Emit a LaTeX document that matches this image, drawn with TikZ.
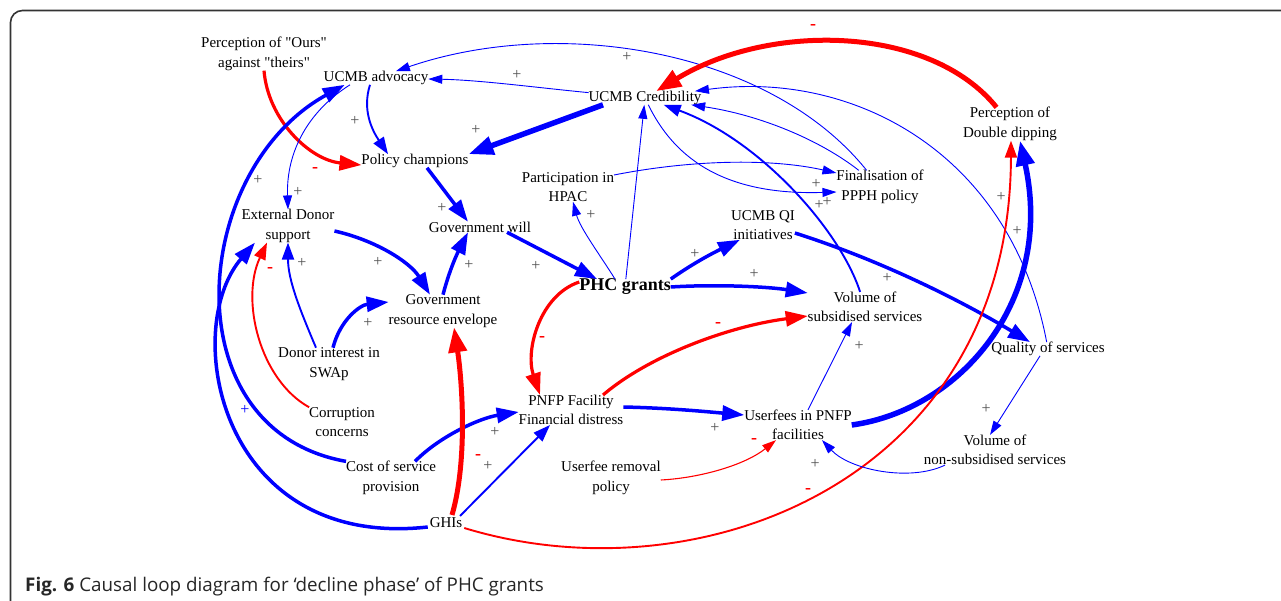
\documentclass[tikz,border=0pt]{standalone}
\usepackage{fontspec}
\setmainfont{Liberation Serif}
\newfontfamily\capfont{Open Sans}
\usetikzlibrary{arrows.meta,calc}
\definecolor{cb}{RGB}{0,0,255}
\definecolor{cr}{RGB}{255,0,0}
\definecolor{pl}{RGB}{80,80,80}
\tikzset{
 v/.style={font=\fontsize{15}{19.5}\selectfont, align=center, inner sep=0pt, outer sep=0pt},
 pp/.style={font=\fontsize{16}{16}\selectfont, text=pl, inner sep=0pt},
 mm/.style={font=\fontsize{18}{18}\selectfont\bfseries, text=cr, inner sep=0pt},
 bT/.style={cb, line width=0.9pt, -{Triangle[length=14pt,width=9pt]}},
 bM/.style={cb, line width=1.9pt, -{Triangle[length=17pt,width=12pt]}},
 bK/.style={cb, line width=3.5pt, -{Triangle[length=22pt,width=15pt]}},
 bV/.style={cb, line width=5.5pt, -{Triangle[length=25pt,width=18pt]}},
 rT/.style={cr, line width=1.1pt, -{Triangle[length=14pt,width=9pt]}},
 rM/.style={cr, line width=1.9pt, -{Triangle[length=17pt,width=12pt]}},
 rK/.style={cr, line width=3.2pt, -{Triangle[length=22pt,width=15pt]}},
 rV/.style={cr, line width=5pt, -{Triangle[length=25pt,width=18pt]}},
}
\begin{document}
\begin{tikzpicture}[x=1pt,y=-1pt]
\useasboundingbox (0,0) rectangle (1281,601);
\clip (0,0) rectangle (1281,601);
\draw[line width=1.6pt, black!80, rounded corners=12pt] (10.5,640) -- (10.5,10.5) -- (1320,10.5);
\node[anchor=base west, font=\capfont\fontsize{18.8}{20}\selectfont, text=black!85, inner sep=0pt] (cap) at (25,591) {\textbf{Fig. 6} Causal loop diagram for ‘decline phase’ of PHC grants};
% nodes
\node[v] (ours) at (264,54) {Perception of \textquotedbl Ours\textquotedbl\\against \textquotedbl theirs\textquotedbl};
\node[v] (adv) at (376,78) {UCMB advocacy};
\node[v] (pc) at (415,161) {Policy champions};
\node[v] (cred) at (645,98) {UCMB Credibility};
\node[v] (dd) at (1010,124) {Perception of\\Double dipping};
\node[v] (fin) at (880,187) {Finalisation of\\PPPH policy};
\node[v] (hpac) at (568,187) {Participation in\\HPAC};
\node[v] (qi) at (763,225) {UCMB QI\\initiatives};
\node[v] (ext) at (288,226) {External Donor\\support};
\node[v] (gw) at (480,227) {Government will};
\node[v, font=\fontsize{18}{20}\selectfont\bfseries] (phc) at (625,287) {PHC grants};
\node[v] (vol) at (865,307) {Volume of\\subsidised services};
\node[v] (gre) at (443,311) {Government\\resource envelope};
\node[v] (qos) at (1048,349) {Quality of services};
\node[v] (swap) at (329,364) {Donor interest in\\SWAp};
\node[v] (corr) at (342,422) {Corruption\\concerns};
\node[v] (pnfp) at (571,410) {PNFP Facility\\Financial distress};
\node[v] (uf) at (798,425) {Userfees in PNFP\\facilities};
\node[v] (nsub) at (995,450) {Volume of\\non-subsidised services};
\node[v] (cost) at (391,478) {Cost of service\\provision};
\node[v] (urp) at (611,478) {Userfee removal\\policy};
\node[v] (ghi) at (446,523) {GHIs};
% edges
\draw[bT] (cred) .. controls (540,88) and (480,80) .. (adv);
\draw[bT] (fin) .. controls (770,50) and (560,15) .. (adv);
\draw[rV] (dd) .. controls (930,25) and (770,22) .. (cred);
\draw[bT] (qos) .. controls (1010,150) and (850,70) .. (cred);
\draw[bT] (fin) .. controls (820,140) and (760,115) .. (cred);
\draw[bM] (vol) .. controls (840,230) and (760,140) .. (cred);
\draw[bT] (phc) -- (cred);
\draw[bV] ([xshift=-42pt]cred.south) -- (pc.north east);
\draw[bM] ([xshift=-6pt]adv.south) .. controls (362,110) and (372,130) .. ([xshift=-27pt]pc.north);
\draw[rK] (ours.south) .. controls (268,120) and (310,160) .. ([yshift=-4pt]pc.west);
\draw[bT] ([xshift=-26pt]adv.south) .. controls (310,110) and (286,150) .. (ext.north);
\draw[bK] (cost.north west) .. controls (170,430) and (190,170) .. ([xshift=21pt]adv.south west);
\draw[bK] ([xshift=-2pt,yshift=-4pt]ghi.west) .. controls (220,550) and (180,330) .. ([xshift=-33pt]ext.south);
\draw[rM] (corr.north west) .. controls (260,380) and (240,300) .. ([xshift=-21pt]ext.south);
\draw[bM] ([xshift=-13pt]swap.north) .. controls (300,310) and (288,280) .. (ext.south);
\draw[bK] ([xshift=4pt]swap.north) .. controls (340,320) and (360,305) .. ([yshift=9pt]gre.west);
\draw[bK] ([yshift=-5pt]ext.east) .. controls (375,240) and (410,262) .. ([xshift=-13pt]gre.north);
\draw[bK] (gre.north) .. controls (450,268) and (458,252) .. ([xshift=-12pt]gw.south);
\draw[bK] ([xshift=12pt]pc.south) -- ([xshift=-12pt]gw.north);
\draw[bK] ([xshift=27pt]gw.south) -- ([xshift=-28pt]phc.north);
\draw[bT] ([xshift=-10pt]phc.north) .. controls (600,255) and (580,228) .. ([xshift=5pt]hpac.south);
\draw[bT] ([yshift=12pt]hpac.east) .. controls (690,160) and (770,158) .. ([yshift=14pt]fin.west);
\draw[bT] (cred) .. controls (680,170) and (740,195) .. ([yshift=-5pt]fin.west);
\draw[bK] (phc.north east) .. controls (695,262) and (715,252) .. ([xshift=-23pt]qi.south);
\draw[bK] (phc.east) .. controls (720,284) and (770,287) .. ([yshift=14pt]vol.west);
\draw[rK] ([yshift=5pt]phc.west) .. controls (540,295) and (525,350) .. ([xshift=-31pt]pnfp.north);
\draw[rK] ([xshift=32pt]pnfp.north) .. controls (650,355) and (730,326) .. ([yshift=-9pt]vol.west);
\draw[bK] ([yshift=3pt]pnfp.east) .. controls (670,408) and (710,412) .. ([yshift=10pt]uf.west);
\draw[bK] ([yshift=-8pt]qi.east) .. controls (880,260) and (960,300) .. ([xshift=-18pt]qos.north);
\draw[bT] ([xshift=10pt]uf.north) -- ([xshift=-13pt]vol.south);
\draw[bV] (uf.east) .. controls (960,410) and (1055,300) .. ([xshift=10pt]dd.south);
\draw[rM] ([xshift=2pt,yshift=-5pt]ghi.east) .. controls (700,600) and (1010,480) .. ([xshift=1pt]dd.south);
\draw[bT] ([xshift=-8pt]qos.south) -- ([xshift=-5pt]nsub.north);
\draw[bT] ([xshift=-50pt]nsub.south) .. controls (910,482) and (850,470) .. ([xshift=24pt]uf.south);
\draw[rT] ([yshift=-2pt]urp.east) .. controls (700,478) and (745,465) .. ([xshift=-22pt]uf.south);
\draw[bK] ([xshift=24pt]cost.north) .. controls (440,436) and (480,418) .. ([yshift=-2pt]pnfp.west);
\draw[bM] ([xshift=14pt,yshift=2pt]ghi.north) -- ([xshift=-21pt]pnfp.south);
\draw[rV] ([xshift=6pt,yshift=3pt]ghi.north) .. controls (468,460) and (462,380) .. ([xshift=11pt]gre.south);
% polarity labels
\node[pp] (p1) at (517,75) {+};
\node[pp] (p2) at (627,57) {+};
\node[mm] (m1) at (813,27) {-};
\node[pp] (p3) at (476,130) {+};
\node[pp] (p4) at (355,121) {+};
\node[mm] (m2) at (315,170) {-};
\node[pp] (p5) at (258,180) {+};
\node[pp] (p6) at (298,192) {+};
\node[pp] (p7) at (442,208) {+};
\node[mm] (m3) at (270,270) {-};
\node[pp] (p8) at (302,263) {+};
\node[pp] (p9) at (378,262) {+};
\node[pp] (p10) at (469,265) {+};
\node[pp] (p11) at (368,323) {+};
\node[pp] (p12) at (536,266) {+};
\node[pp] (p13) at (591,215) {+};
\node[pp] (p14) at (695,254) {+};
\node[pp] (p15) at (754,274) {+};
\node[mm] (m4) at (542,339) {-};
\node[mm] (m5) at (718,325) {-};
\node[pp] (p16) at (816,184) {+};
\node[pp] (p17) at (819,205) {+};
\node[pp] (p18) at (827,202) {+};
\node[pp] (p19) at (887,278) {+};
\node[pp] (p20) at (1001,197) {+};
\node[pp] (p21) at (1017,231) {+};
\node[pp] (p22) at (859,346) {+};
\node[pp, text=cb] (p23) at (245,410) {+};
\node[pp] (p24) at (495,432) {+};
\node[mm] (m6) at (478,457) {-};
\node[pp] (p25) at (488,466) {+};
\node[pp] (p26) at (715,428) {+};
\node[mm] (m7) at (754,441) {-};
\node[pp] (p27) at (815,464) {+};
\node[mm] (m8) at (808,491) {-};
\node[pp] (p28) at (986,409) {+};
\end{tikzpicture}
\end{document}
